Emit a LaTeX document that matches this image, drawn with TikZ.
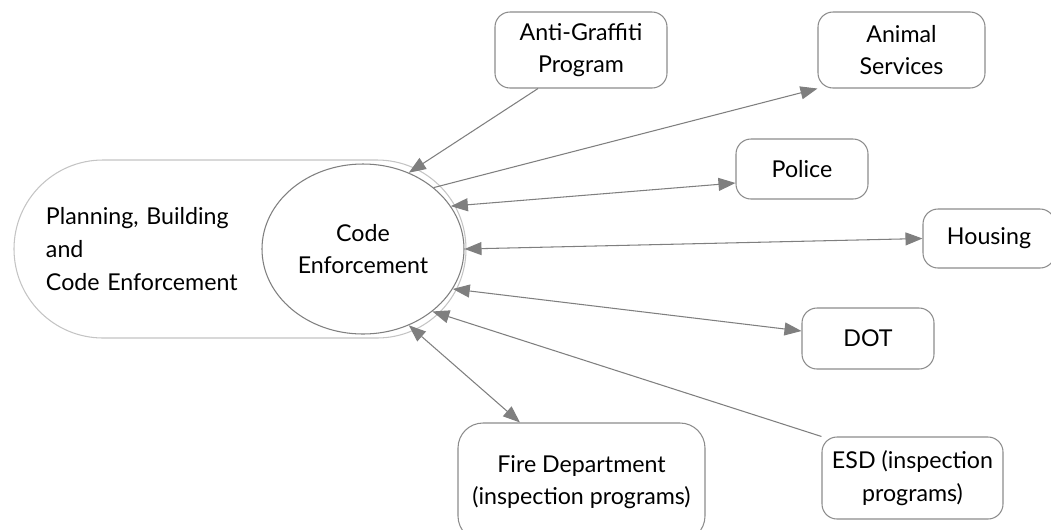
\documentclass[tikz,border=0pt]{standalone}
\usepackage{fontspec}
\setmainfont{Lato}
\usepackage{tikz}
\usetikzlibrary{calc,shapes.geometric,arrows.meta}

\definecolor{boxgray}{HTML}{8C8C8C}
\definecolor{linegray}{HTML}{7F7F7F}
\definecolor{pillgray}{HTML}{C4C4C4}

\tikzset{
    office/.style={draw=boxgray, line width=0.6pt, rounded corners=0.3cm, fill=white, align=center, inner sep=0pt},
    link/.style={draw=linegray, line width=0.6pt, >={Triangle[length=0.34cm, width=0.26cm]}}
}

\begin{document}
\begin{tikzpicture}[font=\fontsize{13.2}{18.6}\selectfont]
    \useasboundingbox (-7.26, 4.98) rectangle (13.76, -5.6);

    \node[draw=pillgray, line width=0.6pt, rounded corners=1.78cm, fill=white, minimum height=3.56cm, text width=7.76cm, inner xsep=0.64cm, align=left] (pbce) at (-2.46, 0) {Planning, Building\\and\\Code Enforcement};
    
    \node[ellipse, draw=linegray, line width=0.6pt, minimum width=4.04cm, minimum height=3.4cm, inner sep=0pt, align=center] (ce) at (0,0) {Code\\Enforcement};
    
    \node[office, minimum width=3.44cm, minimum height=1.52cm] (graffiti) at ($(ce) + (4.36, 3.98)$) {Anti-Graffiti\\Program};
    
    \node[office, minimum width=3.34cm, minimum height=1.52cm] (animal) at ($(ce) + (10.77, 3.98)$) {Animal\\Services};
    
    \node[office, minimum width=2.64cm, minimum height=1.2cm] (police) at ($(ce) + (8.78, 1.6)$) {Police};
    
    \node[office, minimum width=2.64cm, minimum height=1.18cm] (housing) at ($(ce) + (12.52, 0.21)$) {Housing};
    
    \node[office, minimum width=2.64cm, minimum height=1.22cm] (dot) at ($(ce) + (10.1, -1.79)$) {DOT};
    
    \node[office, minimum width=3.62cm, minimum height=1.64cm] (esd) at ($(ce) + (10.99, -4.58)$) {ESD (inspection\\programs)};
    
    \node[office, rounded corners=0.5cm, minimum width=4.94cm, minimum height=2.36cm] (fire) at ($(ce) + (4.37, -4.66)$) {Fire Department\\(inspection programs)};
    
    
    
    \draw[link, ->] ([xshift=-0.86cm]graffiti.south) -- (ce.59);
    \draw[link, ->] (ce.41) -- (animal.south west);
    \draw[link, <->] (ce.26) -- ([yshift=-0.28cm]police.west);
    \draw[link, <->] (ce.east) -- (housing.west);
    \draw[link, <->] (ce.-24) -- ([yshift=0.15cm]dot.west);
    \draw[link, ->] (esd.north west) -- (ce.-42);
    \draw[link, <->] (ce.-59) -- ([xshift=-1.23cm]fire.north);
    
\end{tikzpicture}
\end{document}
